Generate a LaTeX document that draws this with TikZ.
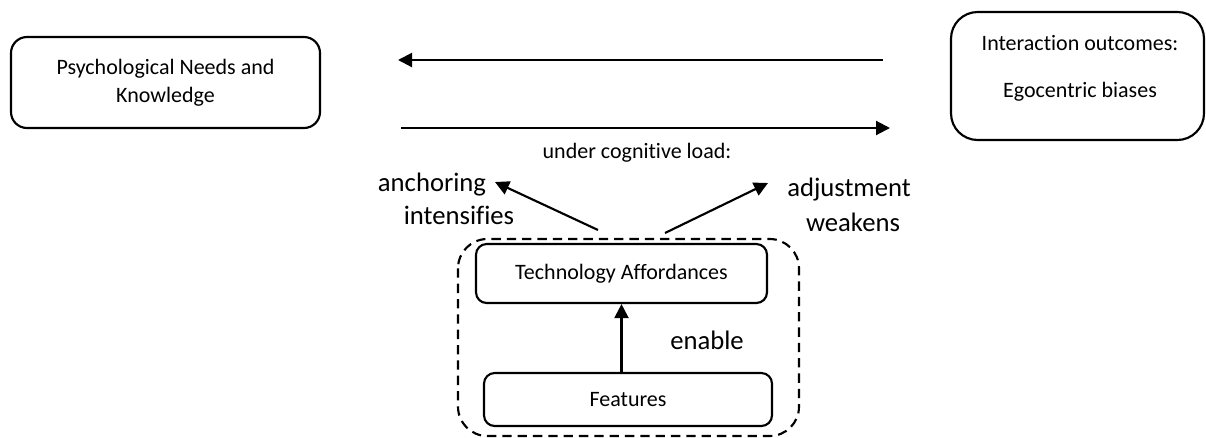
\documentclass[tikz,border=0pt]{standalone}
\usepackage{fontspec}
\setmainfont{Carlito}[Ligatures=NoCommon]
\usetikzlibrary{arrows.meta}
\begin{document}
\begin{tikzpicture}[x=0.75pt,y=-0.75pt,
  box/.style={draw, line width=1.6pt, align=center, inner sep=0pt},
  txt/.style={font=\fontsize{16.5}{21}\selectfont, align=center, inner sep=0pt},
  big/.style={font=\fontsize{20}{24}\selectfont, align=center, inner sep=0pt},
  arr/.style={-{Triangle[length=10.5pt,width=10.5pt]}, line width=1.6pt},
  dashbox/.style={draw, line width=1.6pt, dash pattern=on 7pt off 4.5pt, rounded corners=22pt}]
\useasboundingbox (0,0) rectangle (1206,437);
% left box
\node[box, txt, rounded corners=12pt, minimum width=231.75pt, minimum height=68.25pt] (psy) at (165.5,82.5) {Psychological Needs and\\Knowledge};
% right box
\node[box, rounded corners=20pt, minimum width=189.75pt, minimum height=96pt] (out) at (1077.5,76) {};
\node[txt] (outa) at (1080,43) {Interaction outcomes:};
\node[txt] (outb) at (1080,92) {Egocentric biases};
% horizontal arrows
\coordinate (ta) at (883,60);
\coordinate (tb) at (398,60);
\coordinate (ba) at (401,128);
\coordinate (bb) at (890,128);
\draw[arr] (ta) -- (tb);
\draw[arr] (ba) -- (bb);
\node[txt] (load) at (637,153) {under cognitive load:};
% dashed group
\draw[dashbox] (458,239) rectangle (799,436);
\node[box, txt, rounded corners=8pt, minimum width=218.25pt, minimum height=44.25pt] (tech) at (621.5,273.5) {Technology Affordances};
\node[box, txt, rounded corners=8pt, minimum width=216pt, minimum height=39.75pt] (feat) at (628,399.5) {Features};
\draw[arr] (feat.north -| tech.south) -- (tech.south);
\node[big] (enable) at (707,340) {enable};
% diagonal arrows
\coordinate (la) at (598,230);
\coordinate (lb) at (495,182);
\coordinate (ra) at (665,233);
\coordinate (rb) at (768,183);
\draw[arr] (la) -- (lb);
\draw[arr] (ra) -- (rb);
\node[big] (anch) at (432,185) {anchoring};
\node[big] (intens) at (459,215) {intensifies};
\node[big] (adj) at (849,190) {adjustment};
\node[big] (weak) at (853,222) {weakens};
\end{tikzpicture}
\end{document}
